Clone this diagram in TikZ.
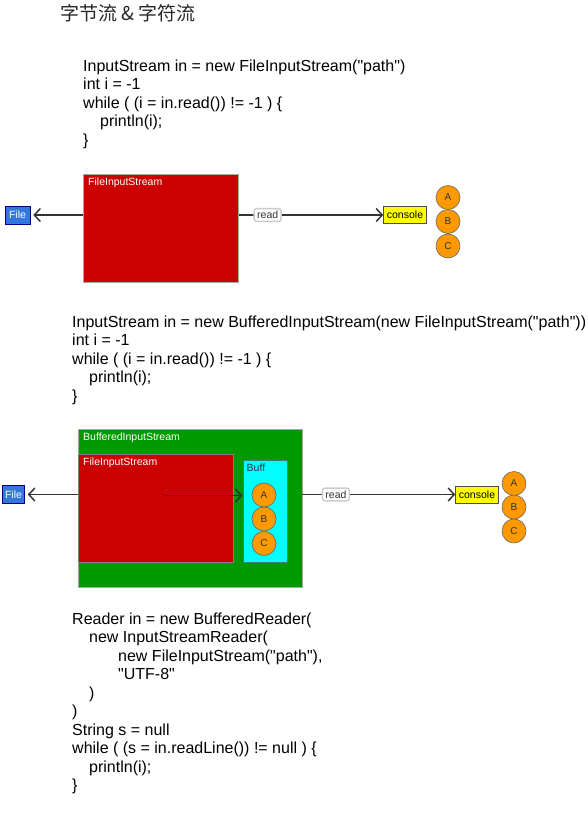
\documentclass[tikz,border=0pt]{standalone}
\usepackage{fontspec}
\setmainfont{Liberation Sans}
\newfontfamily\codefont{Liberation Sans}
\newfontfamily\cjk{Noto Sans CJK SC}
\usetikzlibrary{arrows.meta}
\definecolor{redc}{HTML}{CC0000}
\definecolor{greenc}{HTML}{009900}
\definecolor{cyanc}{HTML}{00FFFF}
\definecolor{yelc}{HTML}{FFFF00}
\definecolor{orac}{HTML}{FF9900}
\definecolor{bluec}{HTML}{3377DD}
\definecolor{linec}{HTML}{333333}
\tikzset{
  codeblock/.style={anchor=north west, inner sep=0pt, align=left, font=\codefont\fontsize{16}{18.5}\selectfont, text=black},
  redbox/.style={fill=redc, draw=gray!70, line width=0.8pt, anchor=north west, inner sep=0pt},
  greenbox/.style={fill=greenc, draw=gray!70, line width=0.8pt, anchor=north west, inner sep=0pt},
  buffbox/.style={fill=cyanc, draw=teal!60!gray, line width=0.8pt, anchor=north west, inner sep=0pt},
  boxlbl/.style={anchor=north west, inner sep=0pt, font=\fontsize{10.5}{12}\selectfont, text=white},
  filebox/.style={fill=bluec, draw=blue!50!black, line width=0.6pt, text=white, font=\fontsize{10.5}{12}\selectfont, inner sep=0pt, minimum height=18pt},
  consolebox/.style={fill=yelc, draw=black!70, line width=0.6pt, font=\fontsize{10.5}{12}\selectfont, inner sep=0pt, minimum width=43pt, minimum height=17pt},
  readlbl/.style={fill=white, draw=gray!40, rounded corners=2.5pt, font=\fontsize{10.5}{12}\selectfont, inner xsep=3pt, inner ysep=2.5pt, text=black!80},
  ball/.style={circle, fill=orac, draw=black!60, line width=0.6pt, minimum size=24pt, inner sep=0pt, font=\fontsize{10}{12}\selectfont, text=black!80},
  conn/.style={draw=linec, line width=1.5pt},
  arr/.style={conn, -{Straight Barb[length=6pt,width=13pt,line width=1.5pt]}},
}
\begin{document}
\begin{tikzpicture}[x=1pt,y=-1pt]
\useasboundingbox (0,0) rectangle (587,814);

\node[anchor=base west, inner sep=0pt, font=\cjk\fontsize{19}{22}\selectfont, text=black!85] (title) at (60,20) {字节流 \& 字符流};

% ---- block 1 ----
\node[codeblock] (code1) at (83,59.5) {InputStream in = new FileInputStream("path")\\
int i = -1\\
while ( (i = in.read()) != -1 ) \{\\
\hspace*{17pt}println(i);\\
\}};

\node[redbox, minimum width=155pt, minimum height=108pt] (fis1) at (83,174) {};
\node[boxlbl] (fis1l) at (88,178) {FileInputStream};
\node[filebox, minimum width=25pt] (file1) at (17.5,215) {File};
\node[consolebox] (con1) at (405,215) {console};
\node[ball] (a1) at (448,197.5) {A};
\node[ball] (b1) at (448,221.5) {B};
\node[ball] (c1) at (448,246) {C};
\draw[arr] (fis1.west |- file1) -- ([xshift=3pt]file1.east);
\draw[arr] (fis1.east |- con1) -- (con1.west) node[readlbl, pos=0.2] (read1) {read};

% ---- block 2 ----
\node[codeblock] (code2) at (72,315.5) {InputStream in = new BufferedInputStream(new FileInputStream("path"))\\
int i = -1\\
while ( (i = in.read()) != -1 ) \{\\
\hspace*{17pt}println(i);\\
\}};

\node[greenbox, minimum width=224pt, minimum height=158pt] (bis) at (77.5,429) {};
\node[boxlbl] (bisl) at (83,433) {BufferedInputStream};
\node[redbox, draw=black!50, minimum width=155pt, minimum height=108pt] (fis2) at (77.5,453.5) {};
\node[boxlbl] (fis2l) at (83,458) {FileInputStream};
\node[buffbox, minimum width=44pt, minimum height=102pt] (buff) at (242.5,459.5) {};
\node[boxlbl, text=black!80] (buffl) at (246.5,463.5) {Buff};
\node[ball] (a2) at (264,495) {A};
\node[ball] (b2) at (264,519) {B};
\node[ball] (c2) at (264,543.5) {C};
\coordinate (src) at (164,495.5);
\draw[arr] (src) -- (buff.west |- src);

\node[filebox, minimum width=22pt] (file2) at (13.5,494.5) {File};
\node[consolebox] (con2) at (477,494.5) {console};
\node[ball] (a3) at (514,483.5) {A};
\node[ball] (b3) at (514,507) {B};
\node[ball] (c3) at (514,531) {C};
\draw[arr] (bis.west |- file2) -- ([xshift=3pt]file2.east);
\draw[arr] (bis.east |- con2) -- (con2.west) node[readlbl, pos=0.22] (read2) {read};

% ---- block 3 ----
\node[codeblock] (code3) at (72,612.5) {Reader in = new BufferedReader(\\
\hspace*{17pt}new InputStreamReader(\\
\hspace*{46pt}new FileInputStream("path"),\\
\hspace*{46pt}"UTF-8"\\
\hspace*{17pt})\\
)\\
String s = null\\
while ( (s = in.readLine()) != null ) \{\\
\hspace*{17pt}println(i);\\
\}};
\end{tikzpicture}
\end{document}
